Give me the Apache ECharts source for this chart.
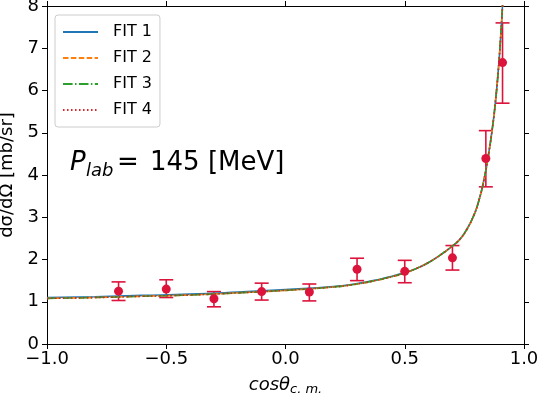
<!DOCTYPE html>
<html>
<head>
<meta charset="utf-8">
<script src="https://cdn.jsdelivr.net/npm/echarts@6/dist/echarts.min.js"></script>
<style>
  html, body { margin: 0; padding: 0; background: #fff; }
  #chart { width: 540px; height: 399px; }
</style>
</head>
<body>
<div id="chart"></div>
<script>
// measured points
var dataX = [-0.7, -0.5, -0.3, -0.1, 0.1, 0.3, 0.5, 0.7, 0.84, 0.91];
var dataY = [1.25, 1.30, 1.07, 1.24, 1.23, 1.77, 1.72, 2.04, 4.39, 6.66];
var errLow = [1.03, 1.10, 0.88, 1.04, 1.02, 1.50, 1.45, 1.75, 3.72, 5.70];
var errHigh = [1.47, 1.52, 1.24, 1.44, 1.42, 2.03, 1.98, 2.33, 5.05, 7.60];

// fit curves
var fitX = [-1.0, -0.8, -0.6, -0.4, -0.2, 0.0, 0.2, 0.3, 0.4, 0.45, 0.5, 0.55, 0.6, 0.65, 0.7, 0.73, 0.76, 0.79, 0.81, 0.83, 0.85, 0.87, 0.88, 0.89, 0.9, 0.91, 0.92];
var fit1 = [1.10, 1.12, 1.15, 1.18, 1.23, 1.29, 1.36, 1.43, 1.54, 1.61, 1.69, 1.79, 1.93, 2.11, 2.32, 2.47, 2.71, 3.05, 3.38, 3.83, 4.44, 5.22, 5.72, 6.32, 7.07, 8.02, 9.25];
var fit2 = [1.08, 1.10, 1.13, 1.16, 1.21, 1.27, 1.35, 1.42, 1.53, 1.60, 1.68, 1.79, 1.93, 2.11, 2.32, 2.47, 2.71, 3.05, 3.38, 3.83, 4.44, 5.22, 5.72, 6.32, 7.07, 8.02, 9.25];
var fit3 = [1.08, 1.10, 1.13, 1.16, 1.21, 1.27, 1.35, 1.42, 1.53, 1.60, 1.68, 1.79, 1.93, 2.11, 2.32, 2.47, 2.71, 3.05, 3.38, 3.83, 4.44, 5.22, 5.72, 6.32, 7.07, 8.02, 9.25];
var fit4 = [1.08, 1.10, 1.13, 1.16, 1.21, 1.27, 1.35, 1.42, 1.53, 1.60, 1.68, 1.79, 1.93, 2.11, 2.32, 2.47, 2.71, 3.05, 3.38, 3.83, 4.44, 5.22, 5.72, 6.32, 7.07, 8.02, 9.25];

var fitNames = ['FIT 1', 'FIT 2', 'FIT 3', 'FIT 4'];

var FONT = 'DejaVu Sans';
var chart = echarts.init(document.getElementById('chart'));

function pairs(xs, ys) {
  return xs.map(function (x, i) { return [x, ys[i]]; });
}

function fitSeries(name, ys, color, dash) {
  return {
    name: name,
    type: 'line',
    data: pairs(fitX, ys),
    symbol: 'none',
    smooth: 0.5,
    clip: true,
    z: 3,
    lineStyle: { color: color, width: 1.6, type: dash },
    itemStyle: { color: color }
  };
}

function renderErr(params, api) {
  var x = api.value(0);
  var top = api.coord([x, api.value(2)]);
  var bot = api.coord([x, api.value(1)]);
  var cap = 7;
  var style = { stroke: '#dc143c', lineWidth: 1.6 };
  return {
    type: 'group',
    children: [
      { type: 'line', shape: { x1: top[0], y1: top[1], x2: bot[0], y2: bot[1] }, style: style },
      { type: 'line', shape: { x1: top[0] - cap, y1: top[1], x2: top[0] + cap, y2: top[1] }, style: style },
      { type: 'line', shape: { x1: bot[0] - cap, y1: bot[1], x2: bot[0] + cap, y2: bot[1] }, style: style }
    ]
  };
}

var tickLabel = { color: '#000', fontFamily: FONT, fontSize: 18 };

chart.setOption({
  animation: false,
  grid: { left: 47, right: 16, top: 6, bottom: 55, outerBoundsMode: 'none', containLabel: false },
  legend: {
    orient: 'vertical',
    left: 55,
    top: 15,
    data: fitNames,
    itemWidth: 35,
    itemHeight: 14,
    itemGap: 10,
    padding: [9, 8, 9, 7],
    itemStyle: { opacity: 0 },
    backgroundColor: 'rgba(255,255,255,0.8)',
    borderColor: '#ccc',
    borderWidth: 1,
    borderRadius: 3,
    textStyle: { color: '#000', fontFamily: FONT, fontSize: 16, padding: [0, 0, 0, 10] }
  },
  xAxis: [{
    type: 'value', min: -1, max: 1, interval: 0.5,
    name: '{i|cosθ}{s|c. m.}',
    nameLocation: 'middle',
    nameGap: 31,
    nameTextStyle: {
      rich: {
        i: { fontFamily: FONT, fontStyle: 'italic', fontSize: 18, color: '#000' },
        s: { fontFamily: FONT, fontStyle: 'italic', fontSize: 13, color: '#000', padding: [8, 0, 0, 0] }
      }
    },
    splitLine: { show: false },
    axisLine: { onZero: false, lineStyle: { color: '#000', width: 1 } },
    axisTick: { show: true, inside: false, length: 5, lineStyle: { color: '#000' } },
    axisLabel: Object.assign({ margin: 6, formatter: function (v) { return v.toFixed(1).replace('-', '\u2212'); } }, tickLabel)
  }, {
    type: 'value', min: -1, max: 1, interval: 0.5, position: 'top',
    splitLine: { show: false },
    axisLine: { onZero: false, lineStyle: { color: '#000', width: 1 } },
    axisTick: { show: true, length: 5, lineStyle: { color: '#000' } },
    axisLabel: { show: false }
  }],
  yAxis: [{
    type: 'value', min: 0, max: 8, interval: 1,
    name: 'dσ/dΩ [mb/sr]',
    nameLocation: 'middle',
    nameGap: 25,
    nameTextStyle: { color: '#000', fontFamily: FONT, fontSize: 18 },
    splitLine: { show: false },
    axisLine: { show: true, onZero: false, lineStyle: { color: '#000', width: 1 } },
    axisTick: { show: true, length: 5, lineStyle: { color: '#000' } },
    axisLabel: Object.assign({ margin: 8 }, tickLabel)
  }, {
    type: 'value', min: 0, max: 8, interval: 1, position: 'right',
    splitLine: { show: false },
    axisLine: { show: true, onZero: false, lineStyle: { color: '#000', width: 1 } },
    axisTick: { show: true, length: 5, lineStyle: { color: '#000' } },
    axisLabel: { show: false }
  }],
  graphic: [
    { type: 'text', left: 70, top: 150, style: { text: 'P', fontFamily: FONT, fontStyle: 'italic', fontSize: 26, fill: '#000' } },
    { type: 'text', left: 86, top: 162, style: { text: 'lab', fontFamily: FONT, fontStyle: 'italic', fontSize: 18, fill: '#000' } },
    { type: 'text', left: 117, top: 150, style: { text: '=', fontFamily: FONT, fontSize: 26, fill: '#000' } },
    { type: 'text', left: 150, top: 150, style: { text: '145 [MeV]', fontFamily: FONT, fontSize: 26, fill: '#000' } }
  ],
  series: [
    {
      type: 'custom',
      renderItem: renderErr,
      data: dataX.map(function (x, i) { return [x, errLow[i], errHigh[i]]; }),
      encode: { x: 0, y: [1, 2] },
      z: 2,
      silent: true
    },
    fitSeries(fitNames[0], fit1, '#1f77b4', 'solid'),
    fitSeries(fitNames[1], fit2, '#ff7f0e', [5.5, 2.4]),
    fitSeries(fitNames[2], fit3, '#2ca02c', [9.6, 2.4, 1.5, 2.4]),
    fitSeries(fitNames[3], fit4, '#d62728', [1.5, 2.5]),
    {
      type: 'scatter',
      data: pairs(dataX, dataY),
      symbol: 'circle',
      symbolSize: 9,
      itemStyle: { color: '#dc143c', opacity: 1 },
      z: 4
    }
  ]
});
</script>
</body>
</html>
